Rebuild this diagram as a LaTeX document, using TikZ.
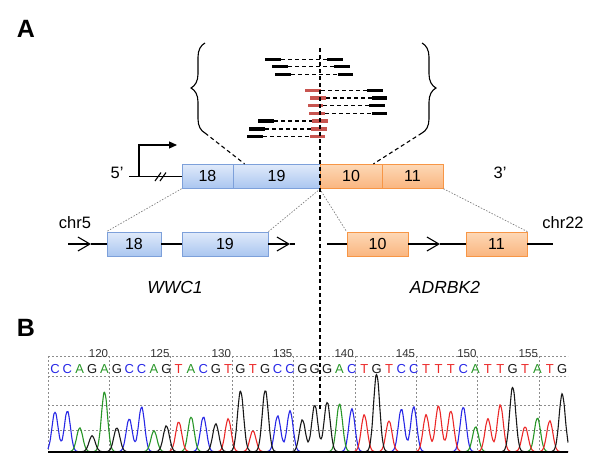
\documentclass[tikz,border=0pt]{standalone}
\usepackage{fontspec}
\setmainfont{Liberation Sans}
\usetikzlibrary{arrows.meta,decorations.pathreplacing}

\definecolor{exonblue}{RGB}{125,160,218}
\definecolor{exonbluetop}{RGB}{224,234,250}
\definecolor{exonbluebot}{RGB}{170,198,240}
\definecolor{exonorange}{RGB}{247,150,70}
\definecolor{exonorangetop}{RGB}{253,216,182}
\definecolor{exonorangebot}{RGB}{250,182,128}
\definecolor{readred}{RGB}{200,85,80}
\definecolor{baseA}{RGB}{40,150,40}
\definecolor{baseC}{RGB}{40,40,230}
\definecolor{baseG}{RGB}{25,25,25}
\definecolor{baseT}{RGB}{235,40,40}
\definecolor{gridgray}{RGB}{140,140,140}

\pgfmathdeclarefunction{pk}{3}{%
  \begingroup
  \pgfmathsetmacro\pkd{(#1-55-(#2-1)*12.37)/4.3}%
  \pgfmathparse{#3*exp(max(-12,-\pkd*\pkd))}%
  \pgfmathsmuggle\pgfmathresult
  \endgroup}

\begin{document}
\begin{tikzpicture}[x=1pt,y=-1pt,
    exon/.style={draw, line width=0.8pt, minimum height=24, inner sep=0pt,
      font=\fontsize{16}{18}\selectfont},
    wwc/.style={exon, draw=exonblue, top color=exonbluetop, bottom color=exonbluebot},
    adr/.style={exon, draw=exonorange, top color=exonorangetop, bottom color=exonorangebot},
    lab/.style={font=\fontsize{16.5}{18}\selectfont},
    gene/.style={font=\fontsize{17.5}{19}\selectfont\itshape},
    panel/.style={font=\fontsize{25}{27}\selectfont\bfseries},
    chrline/.style={line width=1.1pt},
    barb/.style={-{Straight Barb[length=12,width=14]}},
    mapline/.style={draw=gray, line width=0.7pt, dash pattern=on 1.5pt off 1.5pt},
    fuse/.style={line width=1.1pt, dash pattern=on 4pt off 3pt},
    readbar/.style={line width=3.5pt},
    readlink/.style={line width=1.1pt, dash pattern=on 4pt off 3pt},
    gridline/.style={draw=gridgray, line width=0.8pt, dash pattern=on 2pt off 2pt},
    trace/.style={line width=1.1pt},
    seq/.style={font=\fontsize{13}{15}\selectfont, inner sep=0pt},
    posnum/.style={font=\fontsize{11.5}{13}\selectfont, text=black!80, inner sep=0pt, anchor=east}]

  \useasboundingbox (0,0) rectangle (600,461);

  \node[panel] (pa) at (26,29) {A};
  \node[panel] (pb) at (26,328) {B};

  % fusion transcript
  \node[wwc, minimum width=51] (f18) at (207.5,176.3) {18};
  \node[wwc, minimum width=87] (f19) at (276.5,176.3) {19};
  \node[adr, minimum width=62] (f10) at (351,176.3) {10};
  \node[adr, minimum width=61] (f11) at (412.5,176.3) {11};
  \node[lab] (five) at (117,173) {5'};
  \node[lab] (three) at (500,173) {3'};

  \coordinate (fstart) at (129,176.3);
  \coordinate (tss) at (139,176.3);
  \coordinate (tssup) at (139,145);
  \coordinate (tssend) at (177,145);
  \draw[chrline] (fstart) -- (f18);
  \draw[chrline] (155,181) -- (161,172.5) (160,181) -- (166,172.5);
  \draw[chrline, -{Triangle[length=8,width=7]}] (tss) -- (tssup) -- (tssend);

  % genomic loci
  \node[lab] (chr5) at (75,223) {chr5};
  \node[lab] (chr22) at (563,223) {chr22};
  \node[wwc, minimum width=54] (c18) at (134,244) {18};
  \node[wwc, minimum width=86] (c19) at (225,244) {19};
  \node[adr, minimum width=61] (c10) at (377.5,244) {10};
  \node[adr, minimum width=61] (c11) at (496.5,244) {11};
  \node[gene] (wwc1) at (175,287) {WWC1};
  \node[gene] (adrbk2) at (445,287) {ADRBK2};

  \coordinate (c5a) at (68,244);
  \coordinate (c5b) at (91,244);
  \coordinate (c5c) at (290,244);
  \coordinate (c5d) at (295,244);
  \coordinate (c22a) at (327,244);
  \coordinate (c22b) at (440,244);
  \coordinate (c22c) at (553,244);

  \draw[chrline, barb] (c5a) -- (c5b);
  \draw[chrline] (c5b) -- (c18);
  \draw[chrline] (c18) -- (c19);
  \draw[chrline, barb] (c19) -- (c5c);
  \draw[chrline] (c5c) -- (c5d);
  \draw[chrline] (c22a) -- (c10);
  \draw[chrline, barb] (c10) -- (c22b);
  \draw[chrline] (c22b) -- (c11);
  \draw[chrline] (c11) -- (c22c);

  \draw[mapline] (f18.south west) -- (c18.north west);
  \draw[mapline] (f19.south east) -- (c19.north east);
  \draw[mapline] (f10.south west) -- (c10.north west);
  \draw[mapline] (f11.south east) -- (c11.north east);

  % reads over the junction
  \coordinate (lbt) at (205,43);
  \coordinate (lbb) at (205,133);
  \coordinate (rbt) at (422,43);
  \coordinate (rbb) at (422,133);
  \draw[line width=1.1pt, decorate, decoration={brace, amplitude=14}] (lbb) -- (lbt);
  \draw[line width=1.1pt, decorate, decoration={brace, amplitude=14}] (rbt) -- (rbb);
  \draw[fuse] (lbb) -- ([xshift=12]f19.north west);
  \draw[fuse] (rbb) -- ([xshift=-9]f10.north east);

  \foreach \y/\a/\b/\c/\d/\lc/\rc in {
      59.3/265/281/327/343/black/black,
      66.7/272/288/334/350/black/black,
      74.3/275/291/338/353/black/black,
      90.7/305/321/367/383/readred/black,
      98/310/326/372/387/readred/black,
      105.7/308/323/369/385/readred/black,
      113.3/309/325/372/387/readred/black,
      121/258/274/312/328/black/readred,
      129/249/265/311/327/black/readred,
      136.7/247/263/310/325/black/readred} {
    \draw[readbar, \lc] (\a,\y) -- (\b,\y);
    \draw[readlink] (\b,\y) -- (\c,\y);
    \draw[readbar, \rc] (\c,\y) -- (\d,\y);
  }

  % chromatogram
  \foreach \y in {356,376,405.5,430}
    \draw[gridline] (48,\y) -- (568,\y);
  \draw[gridline] (48,356) -- (48,451.7);
  \foreach \n [count=\k] in {120,125,130,135,140,145,150,155} {
    \draw[gridline] ({109.3+(\k-1)*61.4},356) -- ({109.3+(\k-1)*61.4},451.7);
    \node[posnum] (n\n) at ({108.3+(\k-1)*61.4},354) {\n};
  }
  \foreach \b [count=\i] in {C,C,A,G,A,G,C,C,A,G,T,A,C,G,T,G,T,G,C,C,G,
                             G,G,A,C,T,G,T,C,C,T,T,T,C,A,T,T,G,T,A,T,G}
    \node[seq, text=base\b] (s\i) at ({55+(\i-1)*12.37},369.5) {\b};

  \draw[trace, baseC] plot[domain=48:568, samples=261, smooth]
    (\x,{451.7-pk(\x,1,40)-pk(\x,2,41)-pk(\x,7,33)-pk(\x,8,45)-pk(\x,13,35)-pk(\x,19,36)
      -pk(\x,20,41)-pk(\x,25,43)-pk(\x,29,43)-pk(\x,30,45)-pk(\x,34,45)});
  \draw[trace, baseA] plot[domain=48:568, samples=261, smooth]
    (\x,{451.7-pk(\x,3,24)-pk(\x,5,60)-pk(\x,9,21)-pk(\x,12,35)-pk(\x,24,48)-pk(\x,35,25)
      -pk(\x,40,34)});
  \draw[trace, baseT] plot[domain=48:568, samples=261, smooth]
    (\x,{451.7-pk(\x,11,30)-pk(\x,15,33)-pk(\x,17,21)-pk(\x,26,37)-pk(\x,28,31)-pk(\x,31,37)
      -pk(\x,32,46)-pk(\x,33,41)-pk(\x,36,33)-pk(\x,37,47)-pk(\x,39,25)-pk(\x,41,31)});
  \draw[trace, baseG] plot[domain=48:568, samples=261, smooth]
    (\x,{451.7-pk(\x,4,16)-pk(\x,6,24)-pk(\x,10,26)-pk(\x,14,28)-pk(\x,16,61)-pk(\x,18,62)
      -pk(\x,21,32)-pk(\x,22,47)-pk(\x,23,50)-pk(\x,27,78)-pk(\x,38,65)-pk(\x,42,58)});
  \draw[line width=2pt] (48,451.7) -- (568,451.7);

  % breakpoint
  \coordinate (bptop) at (320,48);
  \coordinate (bpbot) at (320,410);
  \draw[fuse] (bptop) -- (bpbot);

\end{tikzpicture}
\end{document}
